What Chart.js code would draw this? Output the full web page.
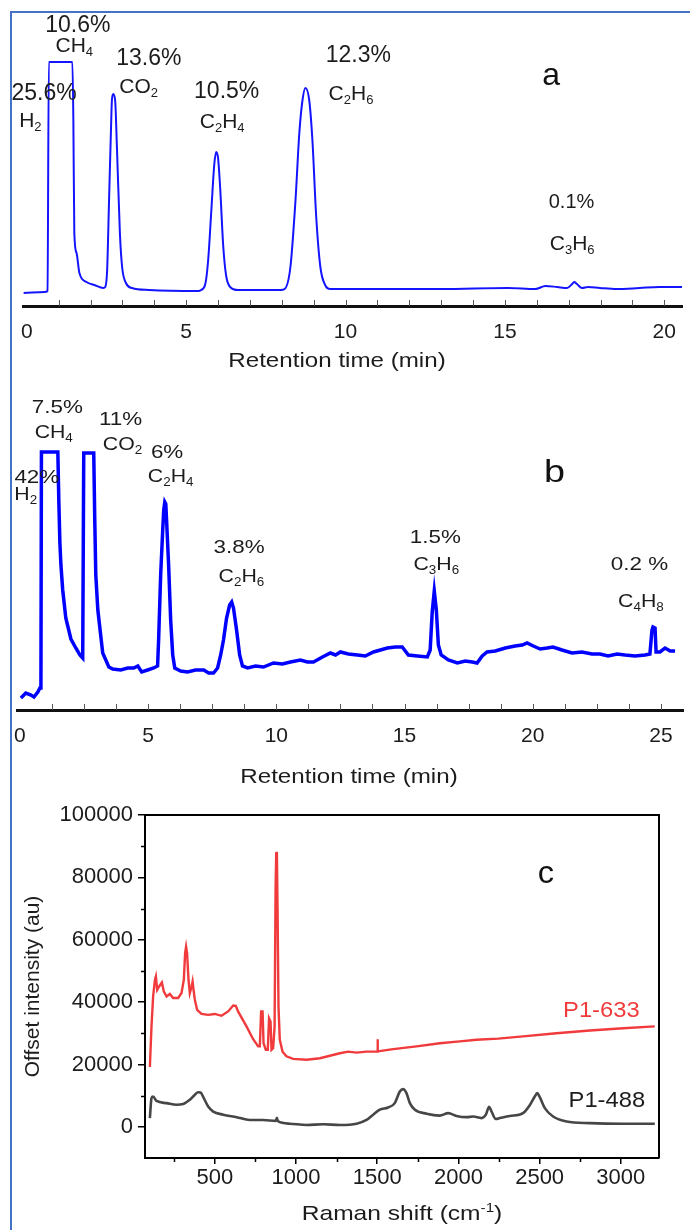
<!DOCTYPE html>
<html>
<head>
<meta charset="utf-8">
<title>Product gas chromatograms and Raman spectra</title>
<script src="https://cdn.jsdelivr.net/npm/chart.js@4.4.0/dist/chart.umd.min.js"></script>
<style>
  html, body { margin: 0; padding: 0; background: #fff; }
  #figure { position: relative; width: 690px; height: 1230px; overflow: hidden; background: #fff; }
  #frame { position: absolute; left: 10px; top: 11px; width: 700px; height: 1240px; border: 2px solid #4472c4; }
  canvas { position: absolute; left: 0; }
</style>
</head>
<body>
<div id="figure">
  <div id="frame"></div>
  <canvas id="chartA" width="690" height="380" style="top:0px"></canvas>
  <canvas id="chartB" width="690" height="420" style="top:370px"></canvas>
  <canvas id="chartC" width="690" height="445" style="top:785px"></canvas>
</div>
<script>
// ---- (a) gas chromatogram, run 1 ----
const timeA = [-0.10, 0.56, 0.65, 0.69, 1.43, 1.46, 1.49, 1.56, 1.65, 1.87, 2.12, 2.40,
  2.46, 2.52, 2.58, 2.64, 2.67, 2.71, 2.77, 2.83, 2.92, 2.99, 3.11, 3.30, 3.83, 5.38,
  5.47, 5.60, 5.69, 5.79, 5.88, 5.94, 6.00, 6.07, 6.16, 6.25, 6.38, 6.63, 7.96,
  8.09, 8.27, 8.43, 8.55, 8.65, 8.74, 8.86, 8.96, 9.08, 9.21, 9.36, 9.52, 10.42, 13.0,
  15.09, 15.96, 16.27, 16.64, 16.95, 17.11, 17.17, 17.26, 17.42, 17.61, 17.98, 18.51,
  19.22, 19.84, 20.56];
const signalA = [13, 14, 15, 244, 244, 186, 73, 53, 33, 24, 21, 18,
  19, 36, 106, 176, 206, 212, 206, 156, 73, 39, 23, 18, 16, 15,
  16, 22, 46, 96, 141, 154, 148, 116, 61, 31, 19, 16, 16,
  17, 39, 106, 173, 206, 218, 206, 166, 89, 39, 21, 17, 17, 17,
  18, 17, 20, 19, 18, 22, 24, 22, 18, 19, 18, 17,
  18, 19, 19];
const gasesA = ['H2', 'CH4', 'CO2', 'C2H4', 'C2H6', 'C3H6'];
const sharesA = ['25.6%', '10.6%', '13.6%', '10.5%', '12.3%', '0.1%'];
const timeTicksA = [0, 5, 10, 15, 20];

// ---- (b) gas chromatogram, run 2 ----
const timeB = [0.04, 0.23, 0.43, 0.55, 0.70, 0.78, 0.82, 0.84, 1.48, 1.52,
  1.56, 1.60, 1.67, 1.79, 1.99, 2.18, 2.34, 2.45, 2.49, 2.88,
  2.92, 2.96, 3.04, 3.15, 3.23, 3.35, 3.47, 3.62, 3.93, 4.21,
  4.44, 4.60, 4.75, 4.98, 5.22, 5.37, 5.41, 5.49, 5.57, 5.61,
  5.65, 5.69, 5.72, 5.80, 5.88, 5.96, 6.04, 6.27, 6.54, 6.85,
  7.17, 7.36, 7.55, 7.71, 7.83, 7.94, 8.06, 8.18, 8.26, 8.33,
  8.45, 8.57, 8.68, 8.88, 9.19, 9.50, 9.89, 10.24, 10.55, 10.94,
  11.21, 11.45, 11.80, 12.11, 12.31, 12.50, 12.81, 13.16, 13.47, 13.79,
  14.06, 14.33, 14.64, 14.91, 15.15, 15.50, 15.89, 16.00, 16.08, 16.16,
  16.24, 16.32, 16.43, 16.71, 17.06, 17.37, 17.64, 17.83, 18.03, 18.22,
  18.54, 18.93, 19.31, 19.59, 19.78, 20.02, 20.29, 20.56, 20.79, 21.14,
  21.53, 21.92, 22.31, 22.62, 22.94, 23.29, 23.60, 23.99, 24.38, 24.57,
  24.65, 24.69, 24.77, 24.81, 24.96, 25.16, 25.36, 25.55];
const signalB = [12, 17, 15, 13, 18, 22, 22, 258, 258, 207,
  167, 145, 120, 92, 71, 62, 55, 52, 257, 257,
  190, 135, 100, 75, 57, 50, 43, 41, 40, 42,
  42, 44, 38, 40, 42, 44, 70, 135, 180, 200,
  208, 206, 190, 145, 90, 55, 42, 39, 38, 40,
  40, 37, 37, 42, 55, 70, 92, 105, 108, 102,
  80, 55, 44, 42, 44, 43, 47, 46, 48, 50,
  48, 48, 53, 57, 55, 58, 56, 55, 54, 58,
  60, 62, 63, 63, 55, 54, 53, 60, 98, 119,
  100, 65, 55, 50, 47, 49, 48, 47, 54, 58,
  59, 62, 64, 65, 67, 64, 61, 62, 63, 60,
  57, 58, 56, 56, 54, 56, 55, 54, 55, 56,
  80, 83, 82, 58, 58, 62, 59, 59];
const gasesB = ['H2', 'CH4', 'CO2', 'C2H4', 'C2H6', 'C3H6', 'C4H8'];
const sharesB = ['42%', '7.5%', '11%', '6%', '3.8%', '1.5%', '0.2 %'];
const timeTicksB = [0, 5, 10, 15, 20, 25];

// ---- (c) Raman spectra ----
const shift633 = [100, 110, 120, 131, 137, 145, 157, 174, 186, 203, 223, 243, 274, 295, 309,
  317, 323, 329, 338, 346, 357, 363, 369, 377, 391, 418, 459, 500, 541, 582, 613, 629,
  643, 695, 736, 767, 777, 785, 794, 800, 814, 826, 834, 843, 849, 859, 868, 874, 878,
  882, 886, 892, 900, 917, 941, 982, 1065, 1147, 1270, 1321, 1373, 1434, 1500, 1502,
  1504, 1598, 1742, 1885, 2009, 2111, 2245, 2398, 2604, 2809, 3014, 3209];
const counts633 = [19200, 32200, 41800, 47100, 48200, 43900, 45000, 46300, 43400, 41800, 42600, 41300, 41300, 42900, 47100,
  55700, 57800, 55700, 47100, 42900, 45000, 46600, 43900, 40700, 37500, 36200, 35900, 36200, 35600, 37000, 38900, 38800,
  37000, 32200, 28100, 25800, 25800, 37000, 37000, 26800, 24700, 24700, 34800, 33800, 24700, 25200, 32200, 76000, 87700,
  88200, 70600, 38600, 27900, 24100, 22600, 21800, 21500, 22000, 23600, 24100, 23800, 24100, 24100, 28100,
  24200, 24900, 25800, 26800, 27400, 27900, 28300, 29000, 30000, 30900, 31600, 32200];
const shift488 = [100, 110, 120, 141, 203, 264, 305, 346, 377, 397, 412, 432, 459, 490, 551, 634,
  715, 797, 876, 882, 888, 962, 1065, 1167, 1270, 1373, 1434, 1475, 1516, 1567, 1608, 1639,
  1660, 1680, 1701, 1732, 1804, 1885, 1937, 1988, 2050, 2091, 2142, 2169, 2189, 2204, 2230,
  2255, 2316, 2398, 2440, 2470, 2485, 2501, 2532, 2583, 2666, 2809, 3014, 3209];
const counts488 = [2800, 9200, 9700, 8300, 7600, 7100, 7300, 8700, 10300, 11100, 11000, 9200, 6500, 4900, 3900, 3100,
  2200, 2200, 1900, 2900, 1800, 1000, 600, 800, 600, 1000, 2200, 3900, 5500, 6200, 7600, 11300,
  12100, 10800, 7600, 5500, 4200, 3600, 4400, 3500, 3100, 3300, 2800, 3900, 6400, 4900, 2500,
  2800, 3500, 4400, 7000, 9700, 10800, 9500, 6000, 3300, 1700, 1200, 1000, 1000];
const spectraNames = ['P1-633', 'P1-488'];
const shiftTicks = [500, 1000, 1500, 2000, 2500, 3000];
const intensityTicks = [0, 20000, 40000, 60000, 80000, 100000];

// label anchors in data units: [share x, share y, gas x, gas y, share font size]
const spotsA = [
  [0.54, 206, 0.11, 179],
  [1.60, 274, 1.49, 254],
  [3.83, 241, 3.51, 213],
  [6.27, 208, 6.13, 178],
  [10.40, 244, 10.17, 206],
  [17.09, 98, 17.11, 56, 20]
];
const spotsB = [
  [0.66, 227, 0.23, 210],
  [1.46, 297, 1.32, 272],
  [3.93, 285, 4.00, 260],
  [5.74, 252, 5.88, 228],
  [8.55, 157, 8.64, 128],
  [16.20, 167, 16.24, 140],
  [24.16, 140, 24.22, 103]
];

const FONT = '"Liberation Sans", Arial, Helvetica, sans-serif';
const INK = '#1c1c1c';

function plainRuns(text) {
  return [{ text: text }];
}

// digits in a chemical formula are set as subscripts
function formulaRuns(text) {
  const runs = [];
  for (const ch of text) {
    const sub = /[0-9]/.test(ch);
    const last = runs[runs.length - 1];
    if (last && !!last.sub === sub) last.text += ch;
    else runs.push({ text: ch, sub: sub });
  }
  return runs;
}

function drawRuns(ctx, runs, x, y, style) {
  const small = Math.round(style.size * 0.62);
  const fontOf = r => `${r.sub || r.sup ? small : style.size}px ${FONT}`;
  let width = 0;
  const widths = runs.map(r => {
    ctx.font = fontOf(r);
    const w = ctx.measureText(r.text).width;
    width += w;
    return w;
  });
  ctx.save();
  ctx.translate(x, y);
  ctx.scale(style.stretch || 1, 1);
  ctx.fillStyle = style.color || INK;
  ctx.textAlign = 'left';
  ctx.textBaseline = 'alphabetic';
  let cx = -width / 2;
  runs.forEach((r, i) => {
    ctx.font = fontOf(r);
    const dy = r.sub ? style.size * 0.2 : (r.sup ? -style.size * 0.4 : 0);
    ctx.fillText(r.text, cx, dy);
    cx += widths[i];
  });
  ctx.restore();
}

// peak annotations (data units), axis captions (canvas pixels), optional plot frame
const figureText = {
  id: 'figureText',
  afterDatasetsDraw(chart, args, opts) {
    const { ctx, chartArea, scales } = chart;
    if (opts.box) {
      ctx.save();
      ctx.strokeStyle = '#000';
      ctx.lineWidth = 2;
      ctx.beginPath();
      ctx.moveTo(chartArea.left, chartArea.top);
      ctx.lineTo(chartArea.right, chartArea.top);
      ctx.lineTo(chartArea.right, chartArea.bottom);
      ctx.stroke();
      ctx.restore();
    }
    (opts.labels || []).forEach(l => {
      drawRuns(ctx, l.runs, scales.x.getPixelForValue(l.x), scales.y.getPixelForValue(l.y), l.style);
    });
    (opts.captions || []).forEach(c => drawRuns(ctx, c.runs, c.x, c.y, c.style));
  }
};

// short unlabelled tick marks; positive length points away from the plot
const minorTicks = {
  id: 'minorTicks',
  afterDraw(chart, args, opts) {
    const { ctx, chartArea, scales } = chart;
    ctx.save();
    ctx.strokeStyle = opts.color || '#000';
    ctx.lineWidth = opts.width || 1;
    ctx.beginPath();
    if (opts.x) {
      opts.x.values.forEach(v => {
        const px = Math.round(scales.x.getPixelForValue(v)) + 0.5;
        ctx.moveTo(px, chartArea.bottom);
        ctx.lineTo(px, chartArea.bottom + opts.x.length);
      });
    }
    if (opts.y) {
      opts.y.values.forEach(v => {
        const py = Math.round(scales.y.getPixelForValue(v)) + 0.5;
        ctx.moveTo(chartArea.left, py);
        ctx.lineTo(chartArea.left - opts.y.length, py);
      });
    }
    ctx.stroke();
    ctx.restore();
  }
};

Chart.register(figureText, minorTicks);

function points(xs, ys) {
  return xs.map((x, i) => ({ x: x, y: ys[i] }));
}

function every(from, to, step) {
  const out = [];
  for (let v = from; v <= to + 1e-9; v += step) out.push(+v.toFixed(3));
  return out;
}

function peakLabels(gases, shares, spots, shareStyle, gasStyle) {
  const out = [];
  gases.forEach((gas, i) => {
    const s = spots[i];
    const style = s[4] ? Object.assign({}, shareStyle, { size: s[4] }) : shareStyle;
    out.push({ runs: plainRuns(shares[i]), x: s[0], y: s[1], style: style });
    out.push({ runs: formulaRuns(gas), x: s[2], y: s[3], style: gasStyle });
  });
  return out;
}

function chromatogram(canvasId, cfg) {
  return new Chart(document.getElementById(canvasId), {
    type: 'line',
    data: {
      datasets: [{
        data: points(cfg.times, cfg.signals),
        borderColor: cfg.color,
        borderWidth: cfg.lineWidth,
        pointRadius: 0,
        tension: cfg.smooth ? 0.4 : 0,
        cubicInterpolationMode: cfg.smooth ? 'monotone' : 'default',
        fill: false
      }]
    },
    options: {
      responsive: false,
      animation: false,
      devicePixelRatio: 1,
      layout: { padding: cfg.padding },
      plugins: {
        legend: { display: false },
        tooltip: { enabled: false },
        figureText: { labels: cfg.labels, captions: cfg.captions },
        minorTicks: { x: { values: cfg.minor, length: -6 }, color: '#555', width: 1 }
      },
      scales: {
        x: {
          type: 'linear',
          min: cfg.xMin,
          max: cfg.xMax,
          afterBuildTicks: s => { s.ticks = cfg.ticks.map(v => ({ value: v })); },
          afterFit: s => { s.height = cfg.axisHeight; },
          grid: { display: false, drawTicks: false },
          border: { display: true, color: '#111', width: 3 },
          ticks: {
            padding: 14,
            color: INK,
            font: { family: FONT, size: 21 },
            maxRotation: 0,
            autoSkip: false,
            callback: v => String(v)
          }
        },
        y: { display: false, min: 0, max: cfg.yMax }
      }
    }
  });
}

const shareStyleA = { size: 23, color: INK };
const gasStyleA = { size: 21, color: INK };
const labelsA = peakLabels(gasesA, sharesA, spotsA, shareStyleA, gasStyleA);
labelsA.push({ runs: plainRuns('a'), x: 16.45, y: 221, style: { size: 32, color: '#111' } });

chromatogram('chartA', {
  times: timeA, signals: signalA,
  color: '#1414ff', lineWidth: 2, smooth: true,
  padding: { left: 23, right: 2, top: 16, bottom: 0 },
  xMin: -0.12, xMax: 20.56, yMax: 290, axisHeight: 74,
  ticks: timeTicksA, minor: every(1, 20, 1),
  labels: labelsA,
  captions: [{ runs: plainRuns('Retention time (min)'), x: 337, y: 367, style: { size: 21, stretch: 1.15, color: INK } }]
});

const shareStyleB = { size: 19, stretch: 1.18, color: INK };
const gasStyleB = { size: 19, stretch: 1.12, color: INK };
const labelsB = peakLabels(gasesB, sharesB, spotsB, shareStyleB, gasStyleB);
labelsB.push({ runs: plainRuns('b'), x: 20.85, y: 228, style: { size: 32, stretch: 1.18, color: '#111' } });

chromatogram('chartB', {
  times: timeB, signals: signalB,
  color: '#0000ff', lineWidth: 3.5, smooth: false,
  padding: { left: 17, right: 7, top: 20, bottom: 0 },
  xMin: -0.08, xMax: 25.86, yMax: 320, axisHeight: 80,
  ticks: timeTicksB, minor: every(1.25, 25, 1.25),
  labels: labelsB,
  captions: [{ runs: plainRuns('Retention time (min)'), x: 349, y: 413, style: { size: 21, stretch: 1.15, color: INK } }]
});

// Raman panel with a closed frame and outward ticks
new Chart(document.getElementById('chartC'), {
  type: 'line',
  data: {
    datasets: [
      {
        label: spectraNames[0],
        data: points(shift633, counts633),
        borderColor: '#f03a3c',
        borderWidth: 2.4,
        pointRadius: 0,
        tension: 0
      },
      {
        label: spectraNames[1],
        data: points(shift488, counts488),
        borderColor: '#464646',
        borderWidth: 2.6,
        pointRadius: 0,
        tension: 0.3,
        cubicInterpolationMode: 'monotone'
      }
    ]
  },
  options: {
    responsive: false,
    animation: false,
    devicePixelRatio: 1,
    layout: { padding: { left: 0, right: 31, top: 30, bottom: 0 } },
    plugins: {
      legend: { display: false },
      tooltip: { enabled: false },
      figureText: {
        box: true,
        labels: [
          { runs: plainRuns(spectraNames[0]), x: 2880, y: 35300, style: { size: 22, stretch: 1.08, color: '#f03a3c' } },
          { runs: plainRuns(spectraNames[1]), x: 2914, y: 6400, style: { size: 22, stretch: 1.08, color: INK } },
          { runs: plainRuns('c'), x: 2538, y: 78200, style: { size: 31, stretch: 1.05, color: '#111' } }
        ],
        captions: [{
          runs: [{ text: 'Raman shift (cm' }, { text: '-1', sup: true }, { text: ')' }],
          x: 402, y: 435, style: { size: 21, stretch: 1.17, color: INK }
        }]
      },
      minorTicks: {
        x: { values: [250, 750, 1250, 1750, 2250, 2750], length: 4 },
        y: { values: [10000, 30000, 50000, 70000, 90000], length: 4 },
        color: '#000',
        width: 1.5
      }
    },
    scales: {
      x: {
        type: 'linear',
        min: 70,
        max: 3235,
        afterBuildTicks: s => { s.ticks = shiftTicks.map(v => ({ value: v })); },
        afterFit: s => { s.height = 72; },
        grid: { drawOnChartArea: false, drawTicks: true, tickLength: 6, color: '#000', lineWidth: 1.5 },
        border: { color: '#000', width: 2 },
        ticks: {
          padding: 1,
          color: INK,
          font: { family: FONT, size: 22 },
          maxRotation: 0,
          autoSkip: false,
          callback: v => String(v)
        }
      },
      y: {
        type: 'linear',
        min: -10000,
        max: 100000,
        afterBuildTicks: s => { s.ticks = intensityTicks.map(v => ({ value: v })); },
        afterFit: s => { s.width = 145; },
        grid: { drawOnChartArea: false, drawTicks: true, tickLength: 7, color: '#000', lineWidth: 1.5 },
        border: { color: '#000', width: 2 },
        ticks: {
          padding: 5,
          color: INK,
          font: { family: FONT, size: 22 },
          autoSkip: false,
          callback: v => String(v)
        },
        title: {
          display: true,
          text: 'Offset intensity (au)',
          color: INK,
          font: { family: FONT, size: 21 },
          padding: { top: 21, bottom: 0 }
        }
      }
    }
  }
});
</script>
</body>
</html>
